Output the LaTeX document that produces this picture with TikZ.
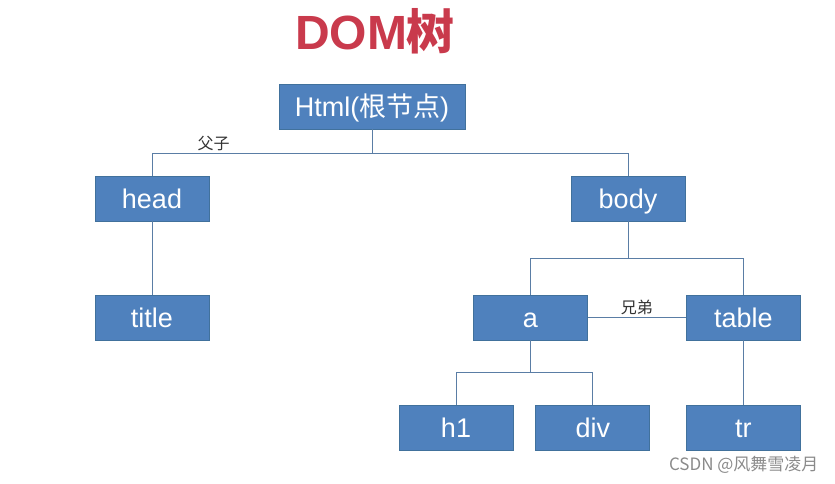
\documentclass[tikz,border=0pt]{standalone}
\usepackage{fontspec}
\setmainfont{Liberation Sans}
\newfontfamily\cjk{Noto Sans CJK SC}
\usepackage{tikz}
\usetikzlibrary{positioning}
\usepackage{xcolor}
\definecolor{BoxBlue}{HTML}{4F81BD}
\definecolor{BoxEdge}{HTML}{41719C}
\definecolor{LineBlue}{HTML}{5A7DA5}
\definecolor{TitleRed}{HTML}{C93A4C}
\definecolor{MarkGray}{HTML}{8A8A8A}

\begin{document}
\begin{tikzpicture}[
            x=1pt, y=-1pt,
            dom/.style={rectangle, draw=BoxEdge, fill=BoxBlue, line width=0.8pt, minimum height=45pt, minimum width=114pt, inner sep=0pt, text height=22pt, text depth=3pt, text=white, font=\fontsize{27}{29}\selectfont},
            link/.style={line width=1pt, color=LineBlue},
            note/.style={font=\cjk\fontsize{16}{17}\selectfont, text=black!80, inner sep=2pt}
        ]
            \useasboundingbox (0,0) rectangle (835,483);
            \node[font=\bfseries\fontsize{48}{50}\selectfont, text=TitleRed] (caption) at (375,31) {DOM{\cjk 树}};

            \node[dom, minimum width=186pt] (html) at (372,106.5) {Html({\cjk 根节点})};
            \node[dom] (head) at (152,198.5) {head};
            \node[dom] (body) at (628,198.5) {body};
            \node[dom, below=74pt of head] (title) {title};
            \node[dom] (a) at (530.5,317.5) {a};
            \node[dom, right=98pt of a] (table) {table};
            \node[dom] (h1) at (456,427.5) {h1};
            \node[dom, right=22pt of h1] (div) {div};
            \node[dom, below=65pt of table] (tr) {tr};

            % parent / child
            \draw[link] (html.south) -- ++(0,24) -| node[note, pos=0.36, above]{父子} (head.north);
            \draw[link] (html.south) -- ++(0,24) -| (body.north);
            \draw[link] (head) -- (title);
            \draw[link] (body.south) -- ++(0,37) -| (a.north);
            \draw[link] (body.south) -- ++(0,37) -| (table.north);
            \draw[link] (a.south) -- ++(0,32) -| (h1.north);
            \draw[link] (a.south) -- ++(0,32) -| (div.north);
            \draw[link] (table) -- (tr);
            % siblings
            \draw[link] (a) -- node[note, above]{兄弟} (table);

            \node[font=\cjk\fontsize{17}{18}\selectfont, text=MarkGray, anchor=east] (mark) at (822,465) {CSDN @风舞雪凌月};
        \end{tikzpicture}
\end{document}
